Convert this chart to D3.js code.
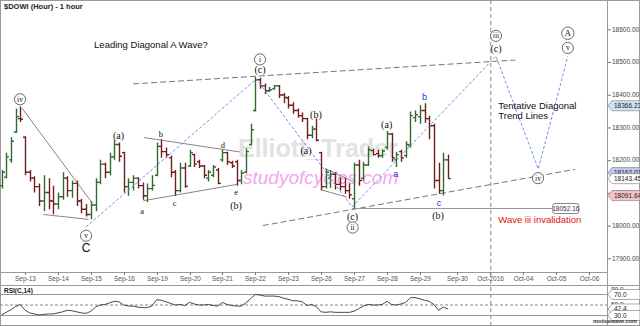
<!DOCTYPE html>
<html>
<head>
<meta charset="utf-8">
<script src="https://cdn.jsdelivr.net/npm/d3@7"></script>
<style>
  body { margin: 0; background: #fff; }
  svg { display: block; font-family: Arial, "Liberation Sans", sans-serif; }
</style>
</head>
<body>
<svg id="chart" width="640" height="326"></svg>
<script>
// ---- data: hourly $DOWI bars, last 5 of Sep-12 then 7 per day Sep-13..Sep-29
const dayLabels = ["Sep-13","Sep-14","Sep-15","Sep-16","Sep-19","Sep-20","Sep-21","Sep-22","Sep-23",
  "Sep-26","Sep-27","Sep-28","Sep-29","Sep-30","Oct-2016","Oct-04","Oct-05","Oct-06"];

const opens = [18122,18148,18201,18286,18327,
  18270,18163,18145,18119,18075,18101,18075,
  18066,18088,18145,18107,18129,18075,18050,
  18034,18063,18132,18188,18163,18210,18248,
  18223,18119,18132,18145,18122,18091,18113,
  18154,18242,18226,18207,18163,18107,18176,
  18182,18217,18195,18182,18145,18154,18170,
  18201,18223,18192,18195,18138,18163,18248,
  18352,18446,18427,18412,18418,18427,18399,
  18390,18368,18352,18336,18327,18276,18295,
  18223,18119,18145,18157,18126,18119,18107,
  18082,18185,18145,18185,18229,18220,18214,
  18239,18280,18201,18226,18214,18245,18330,
  18333,18352,18327,18305,18138,18107,18201];
const highs = [18170,18223,18270,18358,18364,
  18273,18170,18151,18129,18154,18145,18122,
  18101,18163,18151,18138,18138,18082,18066,
  18075,18145,18201,18192,18223,18261,18254,
  18226,18145,18154,18148,18132,18129,18154,
  18254,18264,18239,18214,18170,18192,18192,
  18232,18220,18201,18185,18170,18185,18176,
  18232,18226,18198,18201,18170,18236,18311,
  18455,18452,18434,18424,18430,18430,18405,
  18396,18377,18358,18346,18330,18305,18327,
  18226,18173,18170,18163,18148,18145,18129,
  18192,18201,18195,18242,18236,18232,18232,
  18289,18283,18226,18232,18258,18349,18352,
  18368,18374,18336,18311,18192,18223,18217];
const lows = [18113,18144,18192,18283,18317,
  18154,18135,18101,18060,18044,18050,18035,
  18050,18079,18088,18085,18060,18038,18028,
  18019,18044,18126,18145,18154,18201,18195,
  18101,18091,18107,18113,18079,18072,18107,
  18151,18207,18207,18148,18091,18101,18116,
  18179,18179,18176,18145,18135,18148,18126,
  18195,18185,18176,18122,18126,18160,18245,
  18349,18418,18402,18408,18415,18390,18374,
  18358,18342,18330,18317,18264,18267,18258,
  18107,18113,18116,18110,18107,18097,18082,
  18052.16,18122,18138,18182,18214,18207,18207,
  18232,18195,18179,18195,18207,18239,18317,
  18311,18314,18264,18113,18097,18091.64,18143];
const closes = [18163,18210,18258,18333,18325,
  18163,18145,18119,18075,18101,18075,18066,
  18088,18145,18107,18129,18075,18050,18034,
  18063,18132,18188,18163,18210,18248,18212,
  18119,18132,18145,18122,18091,18113,18123,
  18242,18226,18217,18163,18107,18176,18120,
  18223,18188,18182,18154,18163,18179,18129,
  18223,18195,18182,18138,18160,18226,18293,
  18446,18427,18412,18415,18427,18399,18392,
  18368,18352,18336,18327,18276,18295,18261,
  18119,18163,18157,18126,18119,18107,18094,
  18185,18138,18185,18232,18217,18214,18228,
  18280,18207,18217,18207,18248,18336,18339,
  18352,18327,18305,18138,18107,18201,18143.45];
const rsi = [31,36,41,47,51,
  40,35,33,31,32,33,33,
  35,37,40,39,37,35,34,
  38,46,50,51,54,57,56,
  50,48,48,46,45,45,48,
  60,59,56,53,50,51,49,
  55,52,50,50,51,49,48,
  55,51,49,48,48,54,62,
  70,69,67,67,67,66,63,
  61,58,58,56,49,51,47,
  37,36,37,36,36,36,36,
  38,43,48,51,50,50,51,
  57,51,50,52,55,64,64,
  62,59,57,51,40,46,42.4];

const priceTicks = [17900,18000,18100,18200,18300,18400,18500,18600];
const rsiTicks = [80,70,50,30];

// annotation drawings, [bar slot, price]
const solidLines = [
  [[4.3,18360],[19.2,18071]],
  [[8.9,18034],[18.5,18019]],
  [[30.3,18269],[50.7,18225]],
  [[30.2,18076],[50.1,18126]],
  [[68.8,18175],[74.9,18134]],
  [[68.1,18109],[73.5,18087]]
];
const channelLines = [
  [[28,18433],[109.3,18506]],
  [[55.6,18000],[122,18172]]
];
const projection = [[18,17996],[54.2,18448],[74.6,18057],[105.2,18518],[114.2,18173],[120.5,18518]];
const invalidation = {price: 18052.16, from: 74.6, to: 117.3};

const circled = [["iv",3.94,18386],["v",18,17969],["i",55,18508],["ii",74.7,17994],
  ["iii",105.2,18580],["A",120.5,18588],["v",120.5,18543],["iv",114.15,18145]];
const parenLabels = [["(a)",24.9,18275],["(b)",49.9,18061],["(c)",55,18476],["(b)",66.9,18339],
  ["(a)",64.8,18230],["(c)",74.7,18027],["(a)",81.95,18308],["(b)",92.9,18029],["(c)",105.2,18540]];
const minorLabels = [["a",29.9,18045],["b",33.9,18279],["c",36.85,18068],["d",47.1,18246],["e",49.9,18102]];
const blueLabels = [["a",83.9,18157],["b",90,18392],["c",93.1,18068]];
const notes = [["Leading Diagonal A Wave?",19.7,18552,"#111"],["Tentative Diagonal",105.7,18366,"#111"],
  ["Trend Lines",105.7,18336,"#111"],["Wave iii invalidation",105.7,18019,"#e01010"]];
const priceBoxes = [[18366.23,"#cfe3f3"],[18162.07,"#c3c6f4"],[18143.45,"#ffffff"],[18091.64,"#f6c4c4"]];
const rsiBoxes = [[70,"70.0"],[42.4,"42.4"],[30,"30.0"]];

// ---- scales
const plotR = 607, plotB = 272;
const x = d3.scaleLinear().domain([5, 125]).range([25, 589]);
const y = d3.scaleLinear().domain([17900, 18600]).range([258.3, 29.3]);
const yR = d3.scaleLinear().domain([30, 70]).range([315.5, 294.5]);
const daySlot = k => 5 + 7 * k + (k >= 13 ? 1 : 0);
const bars = opens.map((o, i) => ({i, o, h: highs[i], l: lows[i], c: closes[i]}));

const svg = d3.select("#chart");
svg.append("defs").append("clipPath").attr("id", "plot")
  .append("rect").attr("width", plotR).attr("height", plotB);

// frame
svg.append("rect").attr("x", 0.5).attr("y", 0.5).attr("width", 639).attr("height", 325)
  .attr("fill", "none").attr("stroke", "#9a9a9a");
svg.append("line").attr("x1", 0).attr("x2", 640).attr("y1", 285.5).attr("y2", 285.5).attr("stroke", "#9a9a9a");
svg.append("line").attr("x1", plotR + 0.5).attr("x2", plotR + 0.5).attr("y1", 0).attr("y2", 326).attr("stroke", "#9a9a9a");
svg.append("line").attr("x1", 0).attr("x2", plotR).attr("y1", plotB + 0.5).attr("y2", plotB + 0.5).attr("stroke", "#9a9a9a");

const plot = svg.append("g").attr("clip-path", "url(#plot)");

// watermark
plot.append("text").attr("x", 238).attr("y", 157).attr("font-size", 25).attr("font-weight", "bold")
  .attr("fill", "#e2e2e2").text("Elliott_Trader");
plot.append("text").attr("x", 243).attr("y", 184).attr("font-size", 19).attr("font-style", "italic")
  .attr("fill", "#f4a6ee").text("studyofcycles.com");

// Oct-2016 separator
svg.append("line").attr("x1", x(daySlot(14)) + 0.5).attr("x2", x(daySlot(14)) + 0.5)
  .attr("y1", 0).attr("y2", 326).attr("stroke", "#888").attr("stroke-dasharray", "4,3");

// channel lines
const line = d3.line().x(d => x(d[0])).y(d => y(d[1]));
plot.selectAll(".chan").data(channelLines).join("path")
  .attr("d", line).attr("fill", "none").attr("stroke", "#777").attr("stroke-width", 1)
  .attr("stroke-dasharray", "6,3");

// invalidation line
plot.append("line").attr("x1", x(invalidation.from)).attr("x2", x(invalidation.to))
  .attr("y1", y(invalidation.price)).attr("y2", y(invalidation.price)).attr("stroke", "#999");
const ib = plot.append("g").attr("transform", `translate(${x(invalidation.to)},${y(invalidation.price)})`);
ib.append("rect").attr("x", 0).attr("y", -5).attr("width", 26).attr("height", 10).attr("rx", 2)
  .attr("fill", "#fff").attr("stroke", "#888");
ib.append("text").attr("x", 13).attr("y", 2.5).attr("text-anchor", "middle").attr("font-size", 6.5)
  .attr("fill", "#333").text(d3.format(".2f")(invalidation.price));

// bars
plot.selectAll(".bar").data(bars).join("path")
  .attr("d", d => {
    const bx = Math.round(x(d.i)) + 0.5;
    return `M${bx},${y(d.h)}V${y(d.l)}M${bx - 2.5},${y(d.o)}H${bx}M${bx},${y(d.c)}H${bx + 2.5}`;
  })
  .attr("fill", "none").attr("stroke-width", 1.4)
  .attr("stroke", d => d.c >= d.o ? "#2f6b2f" : "#6e1f1f");

// wave drawing lines
plot.selectAll(".wl").data(solidLines).join("path")
  .attr("d", line).attr("fill", "none").attr("stroke", "#666").attr("stroke-width", 0.8);
plot.append("path").datum(projection).attr("d", line).attr("fill", "none")
  .attr("stroke", "#6f8ff5").attr("stroke-width", 1).attr("stroke-dasharray", "3,2");

// labels
const serif = "'Liberation Serif', 'DejaVu Serif', serif";
const cg = plot.selectAll(".circ").data(circled).join("g")
  .attr("transform", d => `translate(${x(d[1])},${y(d[2])})`);
cg.append("circle").attr("r", d => d[0] === "A" ? 6.2 : 5.6).attr("fill", "#fff").attr("stroke", "#444").attr("stroke-width", 0.8);
cg.append("text").attr("text-anchor", "middle").attr("dy", "0.33em")
  .attr("font-family", serif).attr("font-size", d => d[0] === "A" ? 9 : 7.5).attr("fill", "#111").text(d => d[0]);

plot.selectAll(".pl").data(parenLabels).join("text")
  .attr("x", d => x(d[1])).attr("y", d => y(d[2])).attr("dy", "0.33em").attr("text-anchor", "middle")
  .attr("font-family", serif).attr("font-size", 10).attr("fill", "#111").text(d => d[0]);
plot.selectAll(".ml").data(minorLabels).join("text")
  .attr("x", d => x(d[1])).attr("y", d => y(d[2])).attr("dy", "0.33em").attr("text-anchor", "middle")
  .attr("font-family", serif).attr("font-size", 8.5).attr("fill", "#111").text(d => d[0]);
plot.selectAll(".bl").data(blueLabels).join("text")
  .attr("x", d => x(d[1])).attr("y", d => y(d[2])).attr("dy", "0.33em").attr("text-anchor", "middle")
  .attr("font-size", 9).attr("fill", "#2a2ae6").text(d => d[0]);
plot.append("text").attr("x", x(18)).attr("y", y(17932)).attr("dy", "0.35em").attr("text-anchor", "middle")
  .attr("font-size", 12).attr("fill", "#111").text("C");
plot.selectAll(".note").data(notes).join("text")
  .attr("x", d => x(d[1])).attr("y", d => y(d[2])).attr("dy", "0.35em")
  .attr("font-size", 9.5).attr("fill", d => d[3]).text(d => d[0]);

svg.append("text").attr("x", 4).attr("y", 9).attr("font-size", 7.5).attr("font-weight", "bold")
  .attr("fill", "#222").text("$DOWI (Hour) - 1 hour");

// right price axis
const pa = svg.append("g");
pa.selectAll("line").data(priceTicks).join("line")
  .attr("x1", plotR).attr("x2", plotR + 4).attr("y1", d => y(d) + 0.5).attr("y2", d => y(d) + 0.5).attr("stroke", "#777");
pa.selectAll("text").data(priceTicks).join("text")
  .attr("x", 612).attr("y", d => y(d)).attr("dy", "0.35em").attr("font-size", 6.5).attr("fill", "#444")
  .text(d => d3.format(".2f")(d));

function tagBox(g, yy, label, fill) {
  const t = g.append("g").attr("transform", `translate(${plotR + 1},${yy})`);
  t.append("path").attr("d", "M0,0L4,-5H32V5H4Z").attr("fill", fill).attr("stroke", "#888").attr("stroke-width", 0.7);
  t.append("text").attr("x", 6).attr("dy", "0.35em").attr("font-size", 6.5).attr("fill", "#222").text(label);
}
priceBoxes.forEach(d => tagBox(svg, y(d[0]), d3.format(".2f")(d[0]), d[1]));

// x axis
const xa = svg.append("g");
dayLabels.forEach((lab, k) => {
  const xx = Math.round(x(daySlot(k))) + 0.5;
  xa.append("line").attr("x1", xx).attr("x2", xx).attr("y1", plotB).attr("y2", plotB + 3).attr("stroke", "#777");
  xa.append("text").attr("x", xx).attr("y", 280.5).attr("text-anchor", "middle")
    .attr("font-size", 6.5).attr("fill", "#555").text(lab);
});

// RSI panel
svg.append("text").attr("x", 4).attr("y", 293).attr("font-size", 6.5).attr("font-weight", "bold")
  .attr("fill", "#222").text("RSI(C,14)");
[70, 30].forEach(v => svg.append("line").attr("x1", 0).attr("x2", plotR).attr("y1", yR(v)).attr("y2", yR(v)).attr("stroke", "#999"));
svg.append("line").attr("x1", 0).attr("x2", plotR).attr("y1", yR(50)).attr("y2", yR(50))
  .attr("stroke", "#888").attr("stroke-dasharray", "3,2");
svg.append("path").datum(rsi).attr("fill", "none").attr("stroke", "#333").attr("stroke-width", 0.9)
  .attr("d", d3.line().x((d, i) => x(i)).y(d => yR(d)));
svg.selectAll(".rt").data(rsiTicks.filter(v => v === 80 || v === 50)).join("text")
  .attr("x", 611).attr("y", d => yR(d)).attr("dy", "0.35em").attr("font-size", 6.5).attr("fill", "#444")
  .text(d => d3.format(".1f")(d));
rsiBoxes.forEach(d => tagBox(svg, yR(d[0]), d[1], "#fff"));

svg.append("text").attr("x", 637).attr("y", 323).attr("text-anchor", "end").attr("font-size", 5.5)
  .attr("font-weight", "bold").attr("fill", "#333").text("motivewave.com");
</script>
</body>
</html>
